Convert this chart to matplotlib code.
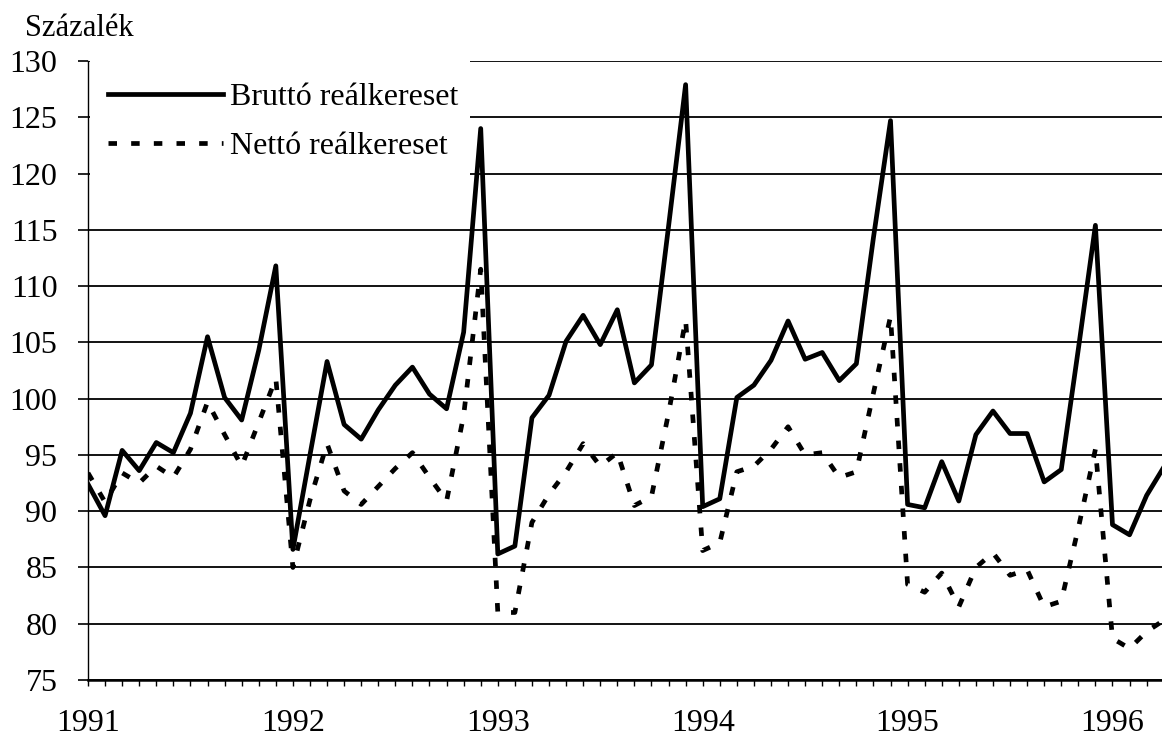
import matplotlib
matplotlib.use("Agg")
import matplotlib.pyplot as plt
import numpy as np
from matplotlib.patches import Rectangle

# ---- data (monthly, Jan 1991 - Apr 1996) ----
years = ["1991", "1992", "1993", "1994", "1995", "1996"]
brutto = [
    92.4, 89.6, 95.4, 93.6, 96.1, 95.2, 98.7, 105.5, 100.1, 98.1, 104.3, 111.8,   # 1991
    86.6, 95.0, 103.3, 97.7, 96.4, 99.0, 101.2, 102.8, 100.4, 99.1, 105.9, 124.0,  # 1992
    86.2, 86.9, 98.3, 100.3, 105.1, 107.4, 104.8, 107.9, 101.4, 103.0, 115.3, 127.9,  # 1993
    90.4, 91.1, 100.1, 101.2, 103.4, 106.9, 103.5, 104.1, 101.6, 103.1, 114.3, 124.7,  # 1994
    90.6, 90.3, 94.4, 90.9, 96.8, 98.9, 96.9, 96.9, 92.6, 93.7, 104.4, 115.4,     # 1995
    88.8, 87.9, 91.4, 93.9,                                                      # 1996
]
netto = [
    93.4, 90.8, 93.4, 92.5, 94.0, 93.0, 95.5, 99.7, 96.8, 94.0, 97.9, 101.8,      # 1991
    85.0, 91.0, 96.0, 91.8, 90.6, 92.2, 93.8, 95.2, 93.0, 90.9, 98.5, 111.5,      # 1992
    81.0, 81.0, 89.0, 91.5, 93.5, 96.0, 94.0, 95.2, 90.5, 91.3, 98.7, 107.0,      # 1993
    86.5, 87.2, 93.5, 94.0, 95.5, 97.5, 95.0, 95.2, 93.0, 93.5, 100.5, 107.3,     # 1994
    83.5, 82.8, 84.5, 81.5, 85.0, 86.3, 84.3, 84.8, 81.5, 82.0, 88.5, 95.5,       # 1995
    78.7, 77.8, 79.3, 80.3,                                                      # 1996
]
labels = ["Bruttó reálkereset", "Nettó reálkereset"]
y_label = "Százalék"
y_ticks = list(range(75, 131, 5))

plt.rcParams["font.family"] = ["Liberation Serif", "DejaVu Serif"]
FS = 23

fig = plt.figure(figsize=(11.62, 7.43), dpi=100)
W, H = 1162, 743
ax = fig.add_axes([88 / W, (H - 680) / H, 1 - 88 / W, 619 / H])

x = np.arange(len(brutto))
ax.plot(x, brutto, color="black", lw=3.4, solid_joinstyle="round",
        label=labels[0], zorder=3, clip_on=True)
ax.plot(x, netto, color="black", lw=3.4, linestyle=(0, (1.8, 3.0)),
        label=labels[1], zorder=3, clip_on=True)

ax.set_xlim(0, 62.9)
ax.set_ylim(75, 130)

ax.set_yticks(y_ticks)
ax.set_yticklabels([str(v) for v in y_ticks], fontsize=FS)
ax.yaxis.grid(True, color="black", lw=1.3)
ax.set_axisbelow(True)

ax.set_xticks(np.arange(0, 61, 12))
ax.set_xticklabels(years, fontsize=FS)
ax.set_xticks(np.arange(0, 63, 1), minor=True)
ax.tick_params(axis="x", which="both", direction="out", length=4, width=1.0,
               pad=17, color="black")
ax.tick_params(axis="y", direction="out", length=7, width=1.2, pad=15)

for s in ["top", "right"]:
    ax.spines[s].set_visible(False)
ax.spines["left"].set_linewidth(1.0)
ax.spines["bottom"].set_linewidth(1.8)

# white area behind the legend (hides gridlines there)
ax.add_patch(Rectangle((0.002, 0.76), (470 - 90) / 1074, 0.26,
                       transform=ax.transAxes, facecolor="white",
                       edgecolor="none", zorder=1, clip_on=False))

leg = ax.legend(loc="upper left", bbox_to_anchor=(0.0186, 0.965),
                frameon=False, fontsize=FS, handlelength=3.6,
                handletextpad=0.22, borderpad=0, borderaxespad=0,
                labelspacing=0.62)

fig.text(25 / W, 1 - 28 / H, y_label, fontsize=22, va="center", ha="left")

fig.savefig("out.png", dpi=100)
